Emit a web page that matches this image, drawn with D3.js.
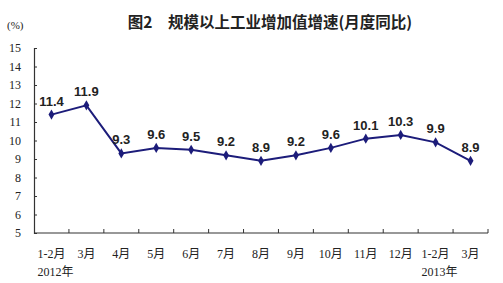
<!DOCTYPE html>
<html>
<head>
<meta charset="utf-8">
<script src="https://cdn.jsdelivr.net/npm/d3@7"></script>
<style>
  body { margin: 0; background: #fff; }
  text { fill: #222; }
</style>
</head>
<body>
<div id="chart"></div>
<script>
// Data
const months = ["1-2月", "3月", "4月", "5月", "6月", "7月", "8月", "9月", "10月", "11月", "12月", "1-2月", "3月"];
const growth = [11.4, 11.9, 9.3, 9.6, 9.5, 9.2, 8.9, 9.2, 9.6, 10.1, 10.3, 9.9, 8.9];
const yearLabels = [{ idx: 0, text: "2012年" }, { idx: 11, text: "2013年" }];
const yTicks = [5, 6, 7, 8, 9, 10, 11, 12, 13, 14, 15];

const w = 503;
const h = 283;
const plotLeft = 34, plotRight = 488, plotTop = 48, plotBottom = 233;

const svg = d3.select("#chart")
  .append("svg")
  .attr("width", w)
  .attr("height", h);

// Scales
const xScale = d3.scaleBand()
  .domain(d3.range(months.length))
  .range([plotLeft, plotRight]);

const yScale = d3.scaleLinear()
  .domain([5, 15])
  .range([plotBottom, plotTop]);

// Title
svg.append("text")
  .attr("x", 270)
  .attr("y", 28)
  .attr("text-anchor", "middle")
  .style("font-family", "'Noto Sans CJK SC', sans-serif")
  .style("font-size", "15.5px")
  .style("font-weight", "bold")
  .text("图2　规模以上工业增加值增速(月度同比)");

svg.append("text")
  .attr("x", 7)
  .attr("y", 29)
  .style("font-family", "'Liberation Serif', serif")
  .style("font-size", "11px")
  .text("(%)");

// y-axis
const yAxis = d3.axisRight(yScale).tickValues(yTicks).tickSize(3).tickFormat(d3.format("d"));
const gy = svg.append("g")
  .attr("transform", `translate(${plotLeft}, 0)`)
  .call(yAxis);
gy.select(".domain").attr("stroke", "#333").attr("stroke-width", 1.2);
gy.selectAll(".tick line").attr("stroke", "#333");
gy.selectAll(".tick text")
  .attr("x", -13)
  .attr("text-anchor", "end")
  .style("font-family", "'Liberation Serif', serif")
  .style("font-size", "12px")
  .attr("fill", "#222");

// x-axis
const xTickPos = d3.range(months.length + 1).map(i => plotLeft + i * xScale.step());
const gx = svg.append("g");
gx.append("line")
  .attr("x1", plotLeft).attr("x2", plotRight)
  .attr("y1", plotBottom).attr("y2", plotBottom)
  .attr("stroke", "#333").attr("stroke-width", 1.2);
gx.selectAll("line.tick")
  .data(xTickPos.slice(1))
  .enter()
  .append("line")
  .attr("class", "tick")
  .attr("x1", d => d).attr("x2", d => d)
  .attr("y1", plotBottom).attr("y2", plotBottom - 4)
  .attr("stroke", "#333");

svg.selectAll("text.cat")
  .data(months)
  .enter()
  .append("text")
  .attr("class", "cat")
  .attr("x", (d, i) => xScale(i) + xScale.bandwidth() / 2)
  .attr("y", 258)
  .attr("text-anchor", "middle")
  .style("font-family", "'Liberation Serif', 'Noto Sans CJK SC', serif")
  .style("font-size", "12px")
  .text(d => d);

svg.selectAll("text.year")
  .data(yearLabels)
  .enter()
  .append("text")
  .attr("class", "year")
  .attr("x", d => xScale(d.idx) + xScale.bandwidth() / 2 + 4)
  .attr("y", 276)
  .attr("text-anchor", "middle")
  .style("font-family", "'Liberation Serif', 'Noto Sans CJK SC', serif")
  .style("font-size", "12px")
  .text(d => d.text);

// Line
const line = d3.line()
  .x((d, i) => xScale(i) + xScale.bandwidth() / 2)
  .y(d => yScale(d));

svg.append("path")
  .datum(growth)
  .attr("fill", "none")
  .attr("stroke", "#1c1c7a")
  .attr("stroke-width", 2)
  .attr("d", line);

svg.selectAll("path.dot")
  .data(growth)
  .enter()
  .append("path")
  .attr("class", "dot")
  .attr("d", d3.symbol().type(d3.symbolDiamond).size(30))
  .attr("transform", (d, i) => `translate(${xScale(i) + xScale.bandwidth() / 2}, ${yScale(d)})`)
  .attr("fill", "#1c1c7a");

// Value labels
svg.selectAll("text.val")
  .data(growth)
  .enter()
  .append("text")
  .attr("class", "val")
  .attr("x", (d, i) => xScale(i) + xScale.bandwidth() / 2)
  .attr("y", d => yScale(d) - 9)
  .attr("text-anchor", "middle")
  .style("font-family", "'Liberation Sans', Arial, sans-serif")
  .style("font-size", "13px")
  .style("font-weight", "bold")
  .text(d => d.toFixed(1));
</script>
</body>
</html>
